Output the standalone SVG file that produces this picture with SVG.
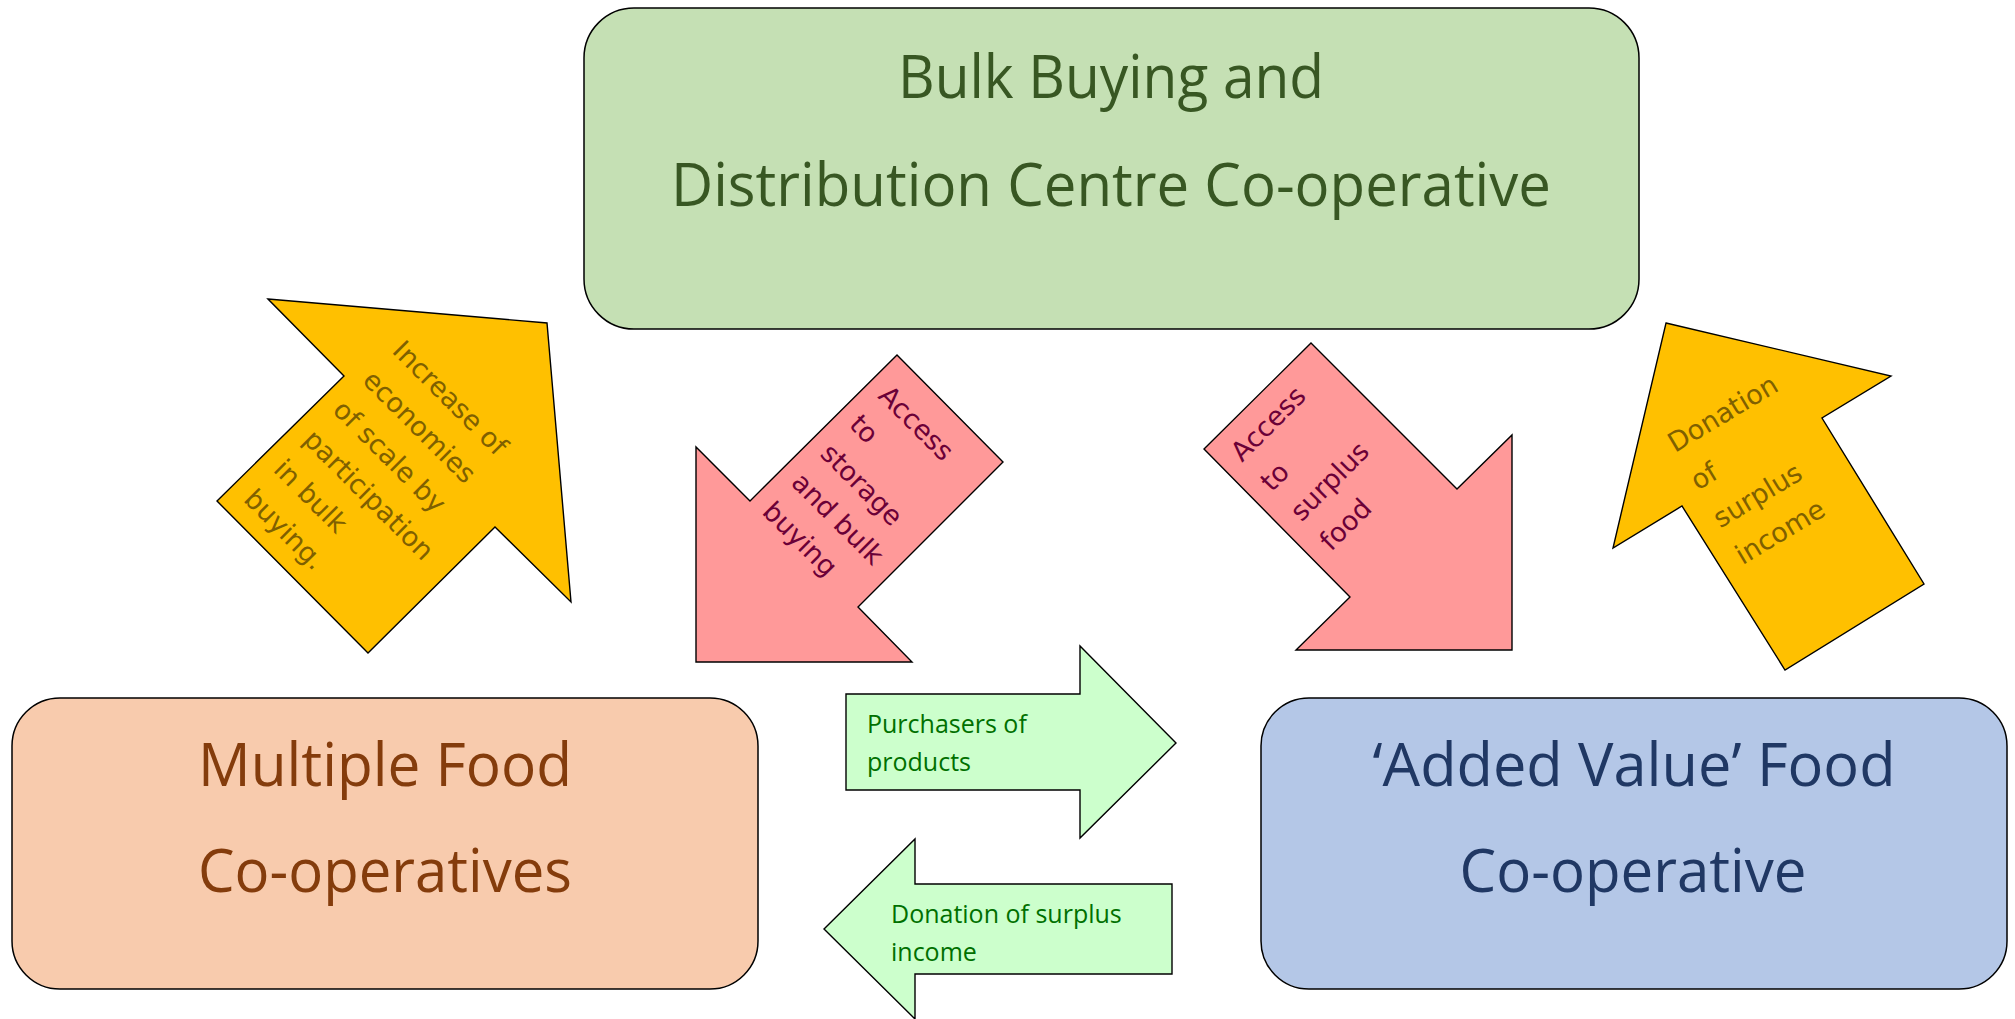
<svg xmlns="http://www.w3.org/2000/svg" width="2015" height="1019" viewBox="0 0 2015 1019">
  <style>
    .box { stroke: #000; stroke-width: 1.5; }
    .arrow { stroke: #000; stroke-width: 1.4; stroke-linejoin: miter; }
    .title { font-family: "Open Sans", "Liberation Sans", sans-serif; font-size: 60px; text-anchor: middle; }
    .rot { font-family: "DejaVu Sans", "Liberation Sans", sans-serif; font-size: 27px; }
    .flat { font-family: "Open Sans", "Liberation Sans", sans-serif; font-size: 25px; fill: #007000; }
    .gold { fill: #ffc000; }
    .goldtxt { fill: #7f6000; }
    .pink { fill: #ff9999; }
    .pinktxt { fill: #6b0037; }
    .mint { fill: #ccffcc; }
  </style>

  <rect width="2015" height="1019" fill="#ffffff"/>

  <!-- Block arrows between the co-operatives -->
  <g id="connectors">
    <g id="arrow-economies">
      <polygon class="arrow gold" points="268,299 547,323 571,602 495,527 368,653 217,501 344,376"/>
      <g class="rot goldtxt" transform="translate(391,352) rotate(45)">
        <text x="0" y="0">Increase of</text>
        <text x="0" y="42">economies</text>
        <text x="0" y="84">of scale by</text>
        <text x="0" y="126">participation</text>
        <text x="0" y="168">in bulk</text>
        <text x="0" y="210">buying.</text>
      </g>
    </g>

    <g id="arrow-storage">
      <polygon class="arrow pink" points="897,355 1003,462 858,607 912,662 696,662 696,447 750,501"/>
      <g class="rot pinktxt" transform="translate(877,397) rotate(45)">
        <text x="0" y="0">Access</text>
        <text x="0" y="41">to</text>
        <text x="0" y="82">storage</text>
        <text x="0" y="123">and bulk</text>
        <text x="0" y="164">buying</text>
      </g>
    </g>

    <g id="arrow-surplus-food">
      <polygon class="arrow pink" points="1311,343 1457,489 1512,435 1512,650 1296,650 1350,597 1204,449"/>
      <g class="rot pinktxt" transform="translate(1242,463) rotate(-45)">
        <text x="0" y="0">Access</text>
        <text x="0" y="42">to</text>
        <text x="0" y="84">surplus</text>
        <text x="0" y="126">food</text>
      </g>
    </g>

    <g id="arrow-donation-up">
      <polygon class="arrow gold" points="1666,323 1891,376 1822,418 1924,584 1785,670 1682,506 1613,548"/>
      <g class="rot goldtxt" transform="translate(1675,453) rotate(-31)">
        <text x="0" y="0">Donation</text>
        <text x="0" y="44">of</text>
        <text x="0" y="88">surplus</text>
        <text x="0" y="131">income</text>
      </g>
    </g>

    <g id="arrow-purchasers">
      <polygon class="arrow mint" points="846,694 1080,694 1080,646 1176,743 1080,838 1080,790 846,790"/>
      <text class="flat" x="867" y="733">Purchasers of</text>
      <text class="flat" x="867" y="771">products</text>
    </g>

    <g id="arrow-donation-left">
      <polygon class="arrow mint" points="915,839 915,884 1172,884 1172,974 915,974 915,1019 824,929"/>
      <text class="flat" x="891" y="923">Donation of surplus</text>
      <text class="flat" x="891" y="961">income</text>
    </g>
  </g>

  <!-- Co-operative nodes -->
  <g id="bulk-buying">
    <rect class="box" x="584" y="8" width="1055" height="321" rx="50" ry="50" fill="#c5e0b4"/>
    <text class="title" x="1111" y="98" fill="#385723" textLength="426" lengthAdjust="spacingAndGlyphs">Bulk Buying and</text>
    <text class="title" x="1111" y="206" fill="#385723" textLength="880" lengthAdjust="spacingAndGlyphs">Distribution Centre Co-operative</text>
  </g>

  <g id="multiple-food">
    <rect class="box" x="12" y="698" width="746" height="291" rx="48" ry="48" fill="#f8cbad"/>
    <text class="title" x="385" y="786" fill="#843c0c" textLength="374" lengthAdjust="spacingAndGlyphs">Multiple Food</text>
    <text class="title" x="385" y="892" fill="#843c0c" textLength="374" lengthAdjust="spacingAndGlyphs">Co-operatives</text>
  </g>

  <g id="added-value">
    <rect class="box" x="1261" y="698" width="746" height="291" rx="48" ry="48" fill="#b4c7e7"/>
    <text class="title" x="1634" y="786" fill="#203864" textLength="523" lengthAdjust="spacingAndGlyphs">‘Added Value’ Food</text>
    <text class="title" x="1633" y="892" fill="#203864" textLength="347" lengthAdjust="spacingAndGlyphs">Co-operative</text>
  </g>
</svg>
